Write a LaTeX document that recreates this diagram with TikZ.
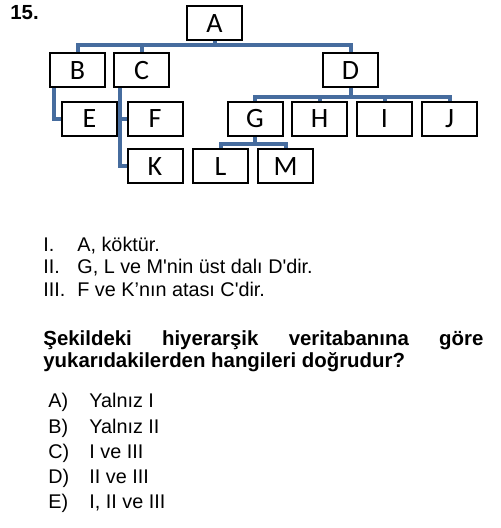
\documentclass[tikz,border=0pt]{standalone}
\usepackage{fontspec}
\setmainfont{Liberation Sans}
\newfontfamily\boxfont{Carlito}
\usetikzlibrary{backgrounds}
\definecolor{linkblue}{RGB}{70,108,158}
\newcommand{\ap}{\textquotesingle}
\begin{document}
\begin{tikzpicture}[
    x=0.5pt, y=-0.5pt,
    box/.style={draw, line width=1pt, fill=white, minimum width=27.5pt, minimum height=17pt,
      inner sep=0pt, font=\boxfont\fontsize{14}{14}\selectfont},
    link/.style={draw=linkblue, line width=2pt},
    txt/.style={anchor=base west, inner sep=0pt, font=\fontsize{9.9}{12}\selectfont},
    bold/.style={anchor=base west, inner sep=0pt, font=\bfseries\fontsize{10.2}{12}\selectfont}
  ]
  \useasboundingbox (0,0) rectangle (500,528);
  \node[bold] (num) at (10,20) {15.};

  \node[box] (A) at (214.5,23.5) {A};
  \node[box] (B) at (77.5,70.5) {B};
  \node[box] (C) at (141.5,70.5) {C};
  \node[box] (D) at (350.5,70.5) {D};
  \node[box] (E) at (89.5,119) {E};
  \node[box] (F) at (155,119) {F};
  \node[box] (G) at (255,119) {G};
  \node[box] (H) at (319.5,119) {H};
  \node[box] (I) at (384.5,119) {I};
  \node[box] (J) at (449.5,119) {J};
  \node[box] (K) at (155,166.5) {K};
  \node[box] (L) at (220.5,166.5) {L};
  \node[box] (M) at (285.5,166.5) {M};

  \begin{scope}[on background layer]
    \foreach \c in {B,C,D}
      \draw[link] (A.south) -- ++(0,3.5) -| (\c.north);
    \foreach \c in {G,H,I,J}
      \draw[link] (D.south) -- ++(0,9) -| (\c.north);
    \foreach \c in {L,M}
      \draw[link] (G.south) -- ++(0,7) -| (\c.north);
    \draw[link] ([xshift=2.5pt]B.south west) |- (E.west);
    \draw[link] ([xshift=3.5pt]C.south west) |- (F.west);
    \draw[link] ([xshift=3.5pt]C.south west) |- (K.west);
  \end{scope}

  \node[txt] (r1) at (43,252) {I.};
  \node[txt] (s1) at (77,252) {A, köktür.};
  \node[txt] (r2) at (43,274) {II.};
  \node[txt] (s2) at (77,274) {G, L ve M\ap nin üst dalı D\ap dir.};
  \node[txt] (r3) at (43,296) {III.};
  \node[txt] (s3) at (77,296) {F ve K’nın atası C\ap dir.};

  \node[bold] (q1) at (43,345) {\makebox[220pt][s]{Şekildeki hiyerarşik veritabanına göre}};
  \node[bold] (q2) at (43,367) {yukarıdakilerden hangileri doğrudur?};

  \node[txt] (oa) at (48,407) {A)};
  \node[txt] (ta) at (89,407) {Yalnız I};
  \node[txt] (ob) at (48,433) {B)};
  \node[txt] (tb) at (89,433) {Yalnız II};
  \node[txt] (oc) at (48,458) {C)};
  \node[txt] (tc) at (89,458) {I ve III};
  \node[txt] (od) at (48,483) {D)};
  \node[txt] (td) at (89,483) {II ve III};
  \node[txt] (oe) at (48,508) {E)};
  \node[txt] (te) at (89,508) {I, II ve III};
\end{tikzpicture}
\end{document}
